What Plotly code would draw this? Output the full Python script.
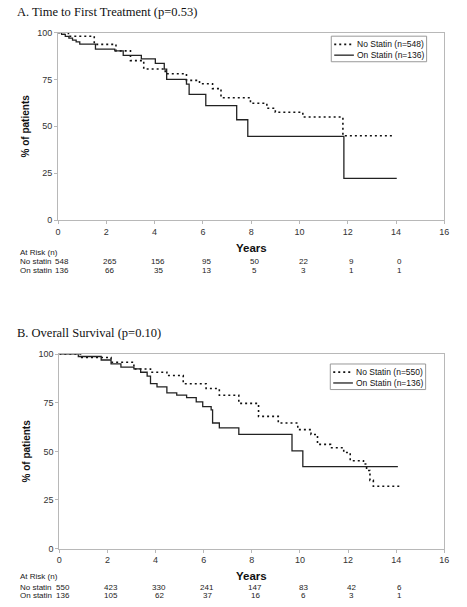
import plotly.graph_objects as go

# ---------------- Data ----------------
# Panel A: Time to First Treatment (step points: time in years, % of patients)
a_no_t = [0, 0.43, 1.5, 2.4, 3.0, 3.55, 4.44, 5.32, 5.86, 6.4, 6.75, 7.97, 8.65, 9.0, 10.14, 11.8, 13.94]
a_no_s = [100, 98, 93.7, 90.2, 85, 80.6, 78, 74.5, 72.7, 70.1, 65.2, 62.3, 59.6, 57.5, 55, 45, 45]
a_on_t = [0, 0.15, 0.3, 0.45, 0.6, 0.75, 0.9, 1.55, 2.35, 2.7, 3.45, 4.03, 4.4, 4.5, 5.32, 5.43, 6.12, 7.4, 7.86, 11.84, 14.03]
a_on_s = [100, 99, 98, 97, 96, 95, 93.8, 91.2, 90.2, 87.8, 86, 83.6, 80.5, 75, 72.5, 67, 61, 53.5, 44.6, 22.2, 22.2]

# Panel B: Overall Survival
b_no_t = [0, 0.93, 2.15, 3.1, 3.79, 4.47, 5.15, 6.1, 6.65, 7.46, 8.28, 9.1, 9.91, 10.46, 10.73, 11.27, 11.82, 12.09, 12.64, 12.77, 12.91, 13.05, 14.13]
b_no_s = [100, 98.3, 95.8, 92.4, 90.7, 89, 84.8, 82.3, 78.9, 74.7, 68, 64.6, 61.2, 58.7, 53.6, 51.9, 49.4, 45.2, 43.5, 40.2, 35.1, 32.1, 32.1]
b_on_t = [0, 0.79, 1.74, 2.15, 2.56, 3.1, 3.38, 3.65, 3.79, 4.06, 4.47, 4.88, 5.29, 5.69, 5.96, 6.31, 6.37, 6.65, 7.46, 9.67, 10.12, 14.07]
b_on_s = [100, 98.8, 97, 95, 93.3, 92.4, 90.7, 88.7, 84.8, 83.2, 80.1, 78.9, 77.6, 75.5, 73, 71.3, 64.6, 62.1, 58.7, 50.3, 42.2, 42.2]

risk_years = [0, 2, 4, 6, 8, 10, 12, 14]
a_risk_no = [548, 265, 156, 95, 50, 22, 9, 0]
a_risk_on = [136, 66, 35, 13, 5, 3, 1, 1]
b_risk_no = [550, 423, 330, 241, 147, 83, 42, 6]
b_risk_on = [136, 105, 62, 37, 16, 6, 3, 1]

a_names = ["No Statin (n=548)", "On Statin (n=136)"]
b_names = ["No Statin (n=550)", "On Statin (n=136)"]

x_ticks = [0, 2, 4, 6, 8, 10, 12, 14, 16]
y_ticks = [0, 25, 50, 75, 100]

# ---------------- Figure ----------------
W, H = 467, 607
SANS = "Liberation Sans, Arial, sans-serif"
SERIF = "Liberation Serif, Times New Roman, serif"
DOT = "2px,3px"

def py(px):
    return 1 - px / H

def pxx(px):
    return px / W

fig = go.Figure()

fig.add_trace(go.Scatter(x=a_no_t, y=a_no_s, mode="lines", line=dict(color="#111", width=1.6, dash=DOT, shape="hv"),
                         name=a_names[0], xaxis="x", yaxis="y"))
fig.add_trace(go.Scatter(x=a_on_t, y=a_on_s, mode="lines", line=dict(color="#222", width=1.3, shape="hv"),
                         name=a_names[1], xaxis="x", yaxis="y"))
fig.add_trace(go.Scatter(x=b_no_t, y=b_no_s, mode="lines", line=dict(color="#111", width=1.6, dash=DOT, shape="hv"),
                         name=b_names[0], xaxis="x2", yaxis="y2"))
fig.add_trace(go.Scatter(x=b_on_t, y=b_on_s, mode="lines", line=dict(color="#222", width=1.3, shape="hv"),
                         name=b_names[1], xaxis="x2", yaxis="y2"))

axis_common = dict(showgrid=False, zeroline=False, showline=True, linecolor="#b8b8b8", linewidth=1,
                   mirror=True, ticks="outside", ticklen=3, tickcolor="#b8b8b8",
                   tickfont=dict(family=SANS, size=9, color="#333"))

fig.update_layout(
    width=W, height=H, margin=dict(l=0, r=0, t=0, b=0),
    paper_bgcolor="white", plot_bgcolor="white",
    xaxis=dict(domain=[pxx(56), pxx(449)], range=[0, 16], tickvals=x_ticks, anchor="y", **axis_common),
    yaxis=dict(domain=[py(218.7), py(28)], range=[0, 100], tickvals=y_ticks, anchor="x", **axis_common,
               title=dict(text="<b>% of patients</b>", font=dict(family=SANS, size=10, color="#111"), standoff=5)),
    xaxis2=dict(domain=[pxx(57.3), pxx(449)], range=[0, 16], tickvals=x_ticks, anchor="y2", **axis_common),
    yaxis2=dict(domain=[py(552.7), py(355)], range=[0, 100], tickvals=y_ticks, anchor="x2", **axis_common,
                title=dict(text="<b>% of patients</b>", font=dict(family=SANS, size=10, color="#111"), standoff=5)),
    showlegend=False,
)

ann = []
shapes = []
# Titles
ann.append(dict(text="A. Time to First Treatment (p=0.53)", x=pxx(12), y=py(7.5), xref="paper", yref="paper",
                xanchor="left", yanchor="middle", showarrow=False, font=dict(family=SERIF, size=12.5, color="#111")))
ann.append(dict(text="B. Overall Survival (p=0.10)", x=pxx(12), y=py(334), xref="paper", yref="paper",
                xanchor="left", yanchor="middle", showarrow=False, font=dict(family=SERIF, size=12.5, color="#111")))
# Years labels
ann.append(dict(text="<b>Years</b>", x=8, y=py(247), xref="x", yref="paper", xanchor="center", yanchor="middle",
                showarrow=False, font=dict(family=SANS, size=11.5, color="#111")))
ann.append(dict(text="<b>Years</b>", x=8, y=py(581), xref="x2", yref="paper", xanchor="center", yanchor="middle",
                showarrow=False, font=dict(family=SANS, size=11.5, color="#111")))


def legend_box(left, top, names):
    bottom = top + 26
    right = left + 97
    shapes.append(dict(type="rect", xref="paper", yref="paper", x0=pxx(left), x1=pxx(right), y0=py(bottom), y1=py(top),
                       line=dict(color="#999", width=1), fillcolor="white", layer="above"))
    rows = [top + 8.3, top + 19.3]
    styles = [dict(color="#111", width=1.6, dash=DOT), dict(color="#222", width=1.3)]
    for r, name, st in zip(rows, names, styles):
        shapes.append(dict(type="line", xref="paper", yref="paper", x0=pxx(left + 3), x1=pxx(left + 23),
                           y0=py(r), y1=py(r), line=st, layer="above"))
        ann.append(dict(text=name, x=pxx(left + 24), y=py(r), xref="paper", yref="paper", xanchor="left",
                        yanchor="middle", showarrow=False, font=dict(family=SANS, size=8.5, color="#111")))


legend_box(334, 31.7, a_names)
legend_box(333, 365, b_names)


def risk_table(xref, y_head, y_no, y_on, no_vals, on_vals):
    f = dict(family=SANS, size=8, color="#222")
    ann.append(dict(text="At Risk (n)", x=pxx(15), y=py(y_head), xref="paper", yref="paper", xanchor="left",
                    yanchor="middle", showarrow=False, font=f))
    ann.append(dict(text="No statin", x=pxx(15), y=py(y_no), xref="paper", yref="paper", xanchor="left",
                    yanchor="middle", showarrow=False, font=f))
    ann.append(dict(text="On statin", x=pxx(15), y=py(y_on), xref="paper", yref="paper", xanchor="left",
                    yanchor="middle", showarrow=False, font=f))
    for yr, v in zip(risk_years, no_vals):
        ann.append(dict(text=str(v), x=yr + 0.15, y=py(y_no), xref=xref, yref="paper", xanchor="center",
                        yanchor="middle", showarrow=False, font=f))
    for yr, v in zip(risk_years, on_vals):
        ann.append(dict(text=str(v), x=yr + 0.15, y=py(y_on), xref=xref, yref="paper", xanchor="center",
                        yanchor="middle", showarrow=False, font=f))


risk_table("x", 251.5, 260.7, 270, a_risk_no, a_risk_on)
risk_table("x2", 581, 592.5, 600.5, b_risk_no, b_risk_on)

fig.update_layout(annotations=ann, shapes=shapes)
fig.write_html("out.html", config={"displayModeBar": False},
               post_script="document.body.style.margin='0';document.body.style.overflow='hidden';")
